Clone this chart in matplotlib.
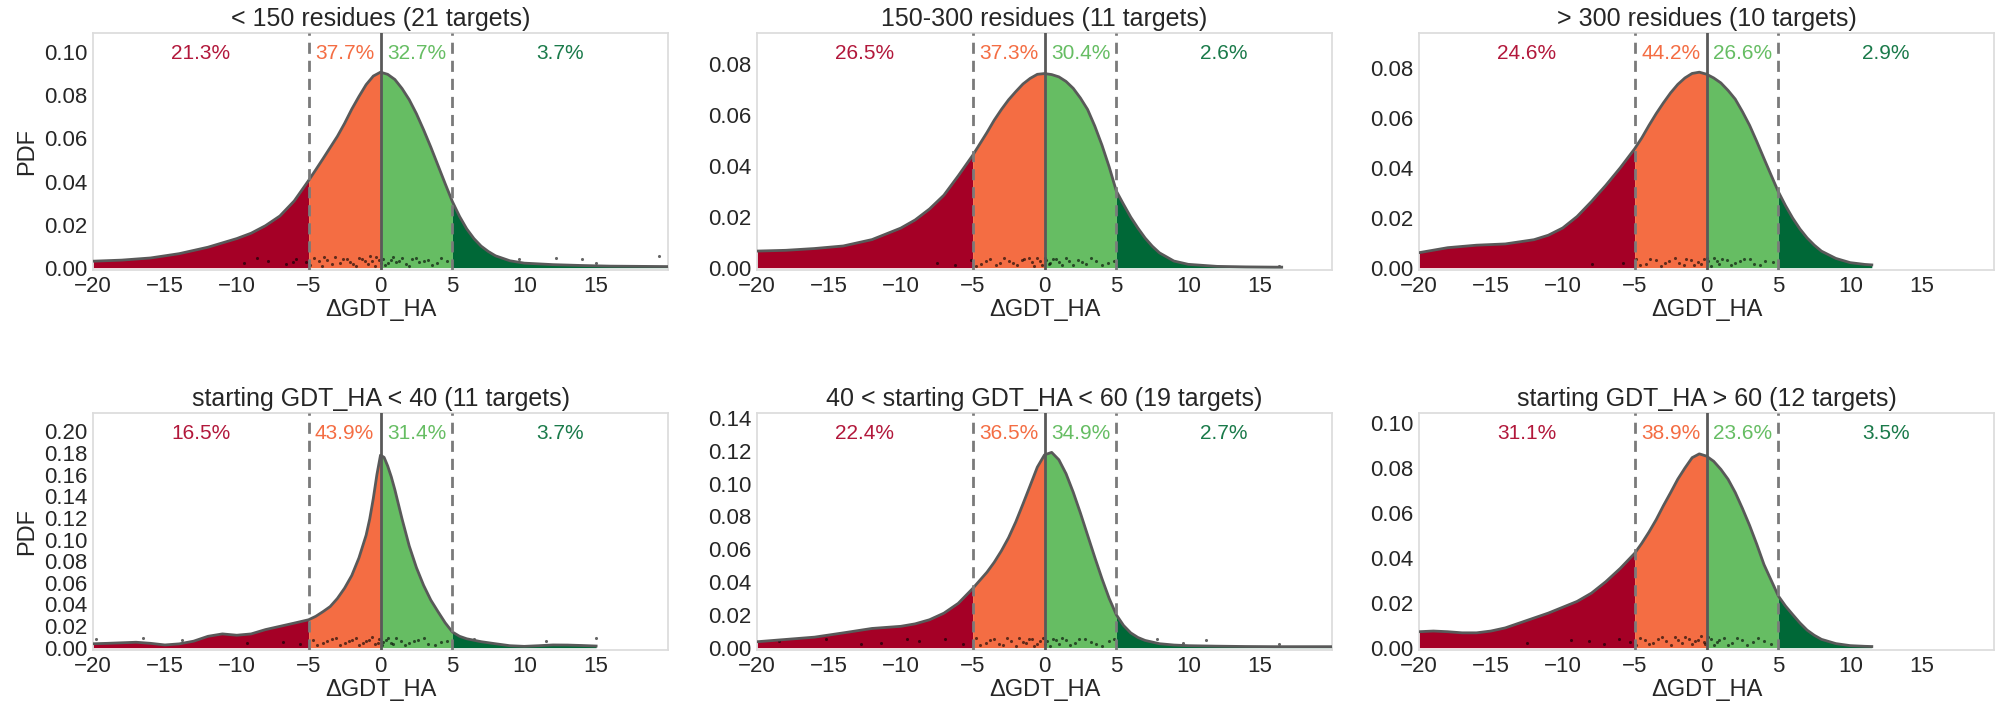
import numpy as np
import matplotlib
matplotlib.use("Agg")
import matplotlib.pyplot as plt

# ============ Data ============
titles = [
    "< 150 residues (21 targets)",
    "150-300 residues (11 targets)",
    "> 300 residues (10 targets)",
    "starting GDT_HA < 40 (11 targets)",
    "40 < starting GDT_HA < 60 (19 targets)",
    "starting GDT_HA > 60 (12 targets)",
]

percents = [
    ["21.3%", "37.7%", "32.7%", "3.7%"],
    ["26.5%", "37.3%", "30.4%", "2.6%"],
    ["24.6%", "44.2%", "26.6%", "2.9%"],
    ["16.5%", "43.9%", "31.4%", "3.7%"],
    ["22.4%", "36.5%", "34.9%", "2.7%"],
    ["31.1%", "38.9%", "23.6%", "3.5%"],
]

core_x = [-5, -4.5, -4, -3.5, -3, -2.5, -2, -1.5, -1, -0.5, 0,
          0.5, 1, 1.5, 2, 2.5, 3, 3.5, 4, 4.5, 5]

# KDE curves (x, pdf)
kde_x_1 = [-20, -18, -16, -14, -12, -10, -9, -8, -7, -6] + core_x + [5.5, 6, 6.5, 7, 7.5, 8, 9, 10, 12, 14, 16, 18, 20]
kde_y_1 = [0.003, 0.0035, 0.0045, 0.0065, 0.0095, 0.0135, 0.016, 0.0195, 0.024, 0.031,
           0.0405, 0.0455, 0.0506, 0.0558, 0.061, 0.067, 0.0736, 0.0795, 0.085, 0.089, 0.0908,
           0.0898, 0.0874, 0.0832, 0.078, 0.0715, 0.064, 0.056, 0.0475, 0.039, 0.0307,
           0.0238, 0.018, 0.0135, 0.010, 0.0075, 0.0055, 0.0032, 0.0021, 0.0014, 0.001, 0.0007, 0.0006, 0.0005]

kde_x_2 = [-20, -18, -16, -14, -12, -10, -9, -8, -7, -6] + core_x + [5.5, 6, 6.5, 7, 7.5, 8, 9, 10, 12, 14, 16, 16.5]
kde_y_2 = [0.0065, 0.0068, 0.0075, 0.0085, 0.011, 0.0155, 0.0187, 0.023, 0.0284, 0.036,
           0.044, 0.0485, 0.053, 0.0578, 0.062, 0.0658, 0.069, 0.072, 0.0742, 0.0758, 0.0761,
           0.0757, 0.0748, 0.073, 0.0703, 0.0665, 0.062, 0.0555, 0.048, 0.0395, 0.030,
           0.0248, 0.0198, 0.0155, 0.0116, 0.0084, 0.0058, 0.0026, 0.0013, 0.0005, 0.0003, 0.0002, 0.0002]

kde_x_3 = [-20, -18, -16, -14, -12, -11, -10, -9, -8, -7, -6] + core_x + [5.5, 6, 6.5, 7, 7.5, 8, 9, 10, 11, 11.5]
kde_y_3 = [0.006, 0.008, 0.009, 0.0095, 0.0112, 0.013, 0.0159, 0.0205, 0.0265, 0.033, 0.040,
           0.0476, 0.052, 0.057, 0.0617, 0.066, 0.070, 0.0734, 0.076, 0.0778, 0.0783, 0.0775,
           0.076, 0.074, 0.071, 0.0675, 0.0625, 0.057, 0.0505, 0.0437, 0.037, 0.0304,
           0.0248, 0.0198, 0.0155, 0.0119, 0.009, 0.0066, 0.0037, 0.002, 0.0013, 0.0011]

kde_x_4 = [-20, -19, -18, -17, -16, -15, -14, -13, -12, -11, -10, -9, -8, -7, -6] + \
          [-5, -4.5, -4, -3.5, -3, -2.5, -2, -1.5, -1, -0.75, -0.5, -0.25, 0,
           0.25, 0.5, 0.75, 1, 1.5, 2, 2.5, 3, 3.5, 4, 4.5, 5] + \
          [5.5, 6, 7, 8, 9, 10, 11, 12, 13, 14, 15]
kde_y_4 = [0.0036, 0.004, 0.0045, 0.005, 0.004, 0.0025, 0.0035, 0.006, 0.0105, 0.0127,
           0.0115, 0.0127, 0.0167, 0.0197, 0.0227,
           0.0258, 0.029, 0.0333, 0.038, 0.0455, 0.055, 0.0667, 0.083, 0.104, 0.119, 0.138, 0.160, 0.178,
           0.176, 0.168, 0.158, 0.146, 0.119, 0.094, 0.074, 0.0576, 0.044, 0.0333, 0.023, 0.0145,
           0.0105, 0.0082, 0.0055, 0.0036, 0.0018, 0.0012, 0.0018, 0.0025, 0.0024, 0.002, 0.0015]

kde_x_5 = [-20, -18, -16, -14, -12, -10, -9, -8, -7, -6] + core_x + [5.5, 6, 6.5, 7, 8, 9, 10, 12, 14, 16, 18, 20]
kde_y_5 = [0.0036, 0.005, 0.0064, 0.009, 0.0117, 0.013, 0.0145, 0.017, 0.021, 0.027,
           0.036, 0.041, 0.046, 0.052, 0.059, 0.067, 0.0766, 0.0875, 0.0987, 0.110, 0.1175,
           0.119, 0.1145, 0.106, 0.0947, 0.082, 0.0685, 0.055, 0.042, 0.030, 0.020,
           0.0135, 0.009, 0.0062, 0.0044, 0.0024, 0.0016, 0.0012, 0.0009, 0.0007, 0.0006, 0.0006, 0.0006]

kde_x_6 = [-20, -19, -18, -17, -16, -15, -14, -13, -12, -11, -10, -9, -8, -7, -6] + core_x + \
          [5.5, 6, 6.5, 7, 7.5, 8, 9, 10, 11, 11.5]
kde_y_6 = [0.0071, 0.0074, 0.0071, 0.0066, 0.0066, 0.0074, 0.0088, 0.011, 0.0132, 0.0154,
           0.018, 0.0206, 0.0243, 0.0294, 0.0353,
           0.042, 0.0465, 0.0515, 0.057, 0.0632, 0.069, 0.075, 0.080, 0.0846, 0.0863, 0.0853,
           0.083, 0.0794, 0.075, 0.0691, 0.062, 0.0544, 0.046, 0.037, 0.030, 0.023,
           0.0185, 0.0147, 0.011, 0.0078, 0.0055, 0.0037, 0.0018, 0.0009, 0.0006, 0.0005]

# raw points strip (x, jittered y), only a readable sample
pts_x_1 = [-9.5, -7.8, -6.6, -5.9, -5.2, -4.6, -4.1, -3.7, -3.2, -2.8, -2.3, -1.9, -1.5, -1.1, -0.7,
           -0.4, -0.1, 0.2, 0.5, 0.9, 1.3, 1.8, 2.2, 2.7, 3.3, 3.9, 4.6, 9.6, 12.2, 14.0, 15.0, 19.4,
           -4.9, -4.3, -3.9, -3.4, -2.6, -2.1, -1.7, -1.3, -0.9, -0.6, -0.3, 0.0, 0.3, 0.7, 1.1,
           1.5, 2.0, 2.5, 3.0, 3.6, 4.2, -8.6, -6.1]
pts_y_1 = [0.002, 0.003, 0.0015, 0.004, 0.0025, 0.0045, 0.001, 0.0035, 0.005, 0.002, 0.004, 0.0015,
           0.0045, 0.003, 0.0052, 0.001, 0.0035, 0.004, 0.002, 0.005, 0.003, 0.0015, 0.0042, 0.0025,
           0.0035, 0.002, 0.003, 0.0038, 0.0046, 0.0038, 0.0023, 0.0054,
           0.0012, 0.003, 0.0048, 0.0018, 0.0038, 0.0028, 0.0008, 0.0042, 0.0018, 0.0032, 0.0048, 0.0022,
           0.0012, 0.0036, 0.0024, 0.0044, 0.0008, 0.0046, 0.0032, 0.0012, 0.0044, 0.0045, 0.0025]
pts_x_2 = [-7.5, -6.2, -5.1, -4.4, -3.8, -3.1, -2.5, -1.9, -1.4, -0.9, -0.5, -0.2, 0.1, 0.4, 0.8,
           1.2, 1.7, 2.3, 2.9, 3.6, 4.4, 16.3,
           -4.8, -4.1, -3.4, -2.8, -2.2, -1.6, -1.1, -0.7, -0.3, 0.0, 0.3, 0.6, 1.0, 1.5, 2.0, 2.6,
           3.2, 4.0, 4.8]
pts_y_2 = [0.002, 0.001, 0.003, 0.0015, 0.0035, 0.002, 0.0028, 0.001, 0.0032, 0.0022, 0.0038, 0.0012,
           0.003, 0.002, 0.0035, 0.001, 0.0025, 0.003, 0.0015, 0.0028, 0.002, 0.0008,
           0.0008, 0.0028, 0.0012, 0.0036, 0.0018, 0.003, 0.0038, 0.0008, 0.0026, 0.0036, 0.0014,
           0.0032, 0.0022, 0.0038, 0.0012, 0.0024, 0.0036, 0.0012, 0.0026]
pts_x_3 = [-8.0, -5.8, -4.9, -4.2, -3.5, -2.9, -2.2, -1.6, -1.1, -0.6, -0.2, 0.1, 0.5, 0.9, 1.4,
           2.0, 2.6, 3.3, 4.1,
           -4.6, -3.9, -3.2, -2.6, -1.9, -1.4, -0.9, -0.4, 0.0, 0.3, 0.7, 1.1, 1.7, 2.3, 3.0, 3.7, 4.6]
pts_y_3 = [0.0015, 0.002, 0.0035, 0.0015, 0.003, 0.002, 0.0038, 0.001, 0.003, 0.0022, 0.0035, 0.0025,
           0.0038, 0.0015, 0.003, 0.002, 0.0035, 0.0015, 0.0025,
           0.0012, 0.0034, 0.0008, 0.0026, 0.0018, 0.0036, 0.0012, 0.0016, 0.0038, 0.0008, 0.0028,
           0.0036, 0.0012, 0.0026, 0.0036, 0.001, 0.0022]
pts_x_4 = [-19.8, -16.5, -13.8, -9.3, -6.8, -5.6, -4.7, -4.0, -3.4, -2.8, -2.2, -1.7, -1.2, -0.8,
           -0.4, -0.1, 0.2, 0.5, 0.9, 1.4, 2.0, 2.6, 3.3, 4.2, 6.5, 11.5, 15.0,
           -4.4, -3.7, -3.1, -2.5, -2.0, -1.5, -1.0, -0.6, -0.2, 0.1, 0.4, 0.7, 1.1, 1.7, 2.3, 3.0,
           3.8, 4.6]
pts_y_4 = [0.008, 0.009, 0.007, 0.004, 0.005, 0.003, 0.007, 0.004, 0.008, 0.002, 0.006, 0.009, 0.004,
           0.007, 0.003, 0.008, 0.005, 0.009, 0.003, 0.006, 0.004, 0.007, 0.003, 0.005, 0.008, 0.006,
           0.009,
           0.002, 0.006, 0.0085, 0.004, 0.0075, 0.002, 0.006, 0.0095, 0.0045, 0.002, 0.007, 0.004,
           0.0085, 0.002, 0.0065, 0.0085, 0.002, 0.0065]
pts_x_5 = [-18.5, -15.2, -11.4, -8.7, -6.9, -5.7, -4.8, -4.1, -3.5, -2.9, -2.3, -1.8, -1.3, -0.9,
           -0.5, -0.1, 0.2, 0.6, 1.0, 1.5, 2.1, 2.8, 3.6, 4.5, 7.8, 9.6, 11.2, 16.3,
           -4.5, -3.8, -3.2, -2.6, -2.0, -1.5, -1.1, -0.7, -0.3, 0.0, 0.4, 0.8, 1.2, 1.8, 2.4, 3.2,
           4.0, 4.8, -12.8, -9.6]
pts_y_5 = [0.004, 0.005, 0.003, 0.004, 0.005, 0.002, 0.006, 0.003, 0.005, 0.0015, 0.004, 0.006, 0.003,
           0.005, 0.002, 0.006, 0.004, 0.0055, 0.002, 0.0045, 0.003, 0.005, 0.002, 0.004, 0.005, 0.003,
           0.0045, 0.002,
           0.0015, 0.0045, 0.0025, 0.0058, 0.001, 0.0035, 0.0055, 0.001, 0.004, 0.0025, 0.001, 0.0045,
           0.006, 0.0015, 0.0055, 0.0035, 0.001, 0.005, 0.002, 0.0055]
pts_x_6 = [-12.5, -8.2, -6.1, -5.3, -4.6, -4.0, -3.4, -2.8, -2.2, -1.7, -1.2, -0.8, -0.4, -0.1, 0.3,
           0.7, 1.2, 1.8, 2.5, 3.2, 4.0,
           -4.9, -4.3, -3.7, -3.1, -2.5, -2.0, -1.5, -1.0, -0.6, -0.2, 0.1, 0.5, 0.9, 1.5, 2.1, 2.8,
           3.6, 4.5, -9.4, -7.1]
pts_y_6 = [0.002, 0.003, 0.004, 0.0025, 0.0045, 0.0015, 0.004, 0.003, 0.0048, 0.002, 0.004, 0.003,
           0.005, 0.0015, 0.004, 0.0025, 0.0045, 0.002, 0.0035, 0.0025, 0.003,
           0.0012, 0.0035, 0.0022, 0.0046, 0.001, 0.0032, 0.0048, 0.0018, 0.0036, 0.0026, 0.0046,
           0.001, 0.0032, 0.0012, 0.0044, 0.0012, 0.0042, 0.0016, 0.0035, 0.0015]

y_tops = [0.109, 0.092, 0.094, 0.217, 0.143, 0.1045]
y_steps = [0.02, 0.02, 0.02, 0.02, 0.02, 0.02]

kde_x = [kde_x_1, kde_x_2, kde_x_3, kde_x_4, kde_x_5, kde_x_6]
kde_y = [kde_y_1, kde_y_2, kde_y_3, kde_y_4, kde_y_5, kde_y_6]
pts_x = [pts_x_1, pts_x_2, pts_x_3, pts_x_4, pts_x_5, pts_x_6]
pts_y = [pts_y_1, pts_y_2, pts_y_3, pts_y_4, pts_y_5, pts_y_6]

# RdYlGn style colours
cores = ["#a50026", "#f46d43", "#66bd63", "#006837"]
txt_cores = ["#b2183b", "#f46d43", "#66bd63", "#1a7a4a"]

plt.rcParams['font.family'] = ['Liberation Sans', 'DejaVu Sans']
plt.rcParams['text.color'] = '#262626'
plt.rcParams['axes.labelcolor'] = '#262626'
plt.rcParams['xtick.color'] = '#262626'
plt.rcParams['ytick.color'] = '#262626'

W, H = 2001, 721
fig = plt.figure(figsize=(W / 100, H / 100), dpi=100)

lefts = [93, 757, 1419]
larg = 575
tops = [33, 413]
alt = 237

for i in range(6):
    lin, col = divmod(i, 3)
    rect = [lefts[col] / W, 1 - (tops[lin] + alt) / H, larg / W, alt / H]
    ax = fig.add_axes(rect)

    x = np.array(kde_x[i])
    y = np.array(kde_y[i])
    top = y_tops[i]
    bot = -0.01 * top

    regioes = [x <= -5, (x >= -5) & (x <= 0), (x >= 0) & (x <= 5), x >= 5]
    for r, c in zip(regioes, cores):
        ax.fill_between(x, 0, y, where=r, color=c, linewidth=0, zorder=2)
    ax.plot(x, y, color='#595959', lw=2, zorder=4)

    # strip of raw points
    ax.scatter(pts_x[i], pts_y[i], s=5, color='black', alpha=0.6, linewidths=0, zorder=3)

    ax.axvline(0, color='#595959', lw=2, zorder=5)
    ax.axvline(-5, color='#7a7a7a', lw=2, ls=(0, (4, 2.5)), zorder=5)
    ax.axvline(5, color='#7a7a7a', lw=2, ls=(0, (4, 2.5)), zorder=5)

    centros = [-12.5, -2.5, 2.5, 12.5]
    for cx, t, c in zip(centros, percents[i], txt_cores):
        ax.text(cx, 0.915, t, color=c, fontsize=15, ha='center', va='center',
                transform=ax.get_xaxis_transform())

    ax.set_xlim(-20, 20)
    ax.set_ylim(bot, top)
    ax.set_xticks([-20, -15, -10, -5, 0, 5, 10, 15])
    ax.set_xticklabels(['\u221220', '\u221215', '\u221210', '\u22125', '0', '5', '10', '15'])
    ax.set_yticks(np.arange(0, top, y_steps[i]))
    ax.yaxis.set_major_formatter(matplotlib.ticker.FormatStrFormatter('%.2f'))
    ax.tick_params(length=0, labelsize=16, pad=4)
    for s in ax.spines.values():
        s.set_color('#dcdcdc')
        s.set_linewidth(1.25)

    ax.set_title(titles[i], fontsize=18, pad=5)
    ax.set_xlabel("\u0394GDT_HA", fontsize=17, labelpad=2)
    if col == 0:
        ax.set_ylabel("PDF", fontsize=17, labelpad=4)

fig.savefig("out.png", dpi=100)
